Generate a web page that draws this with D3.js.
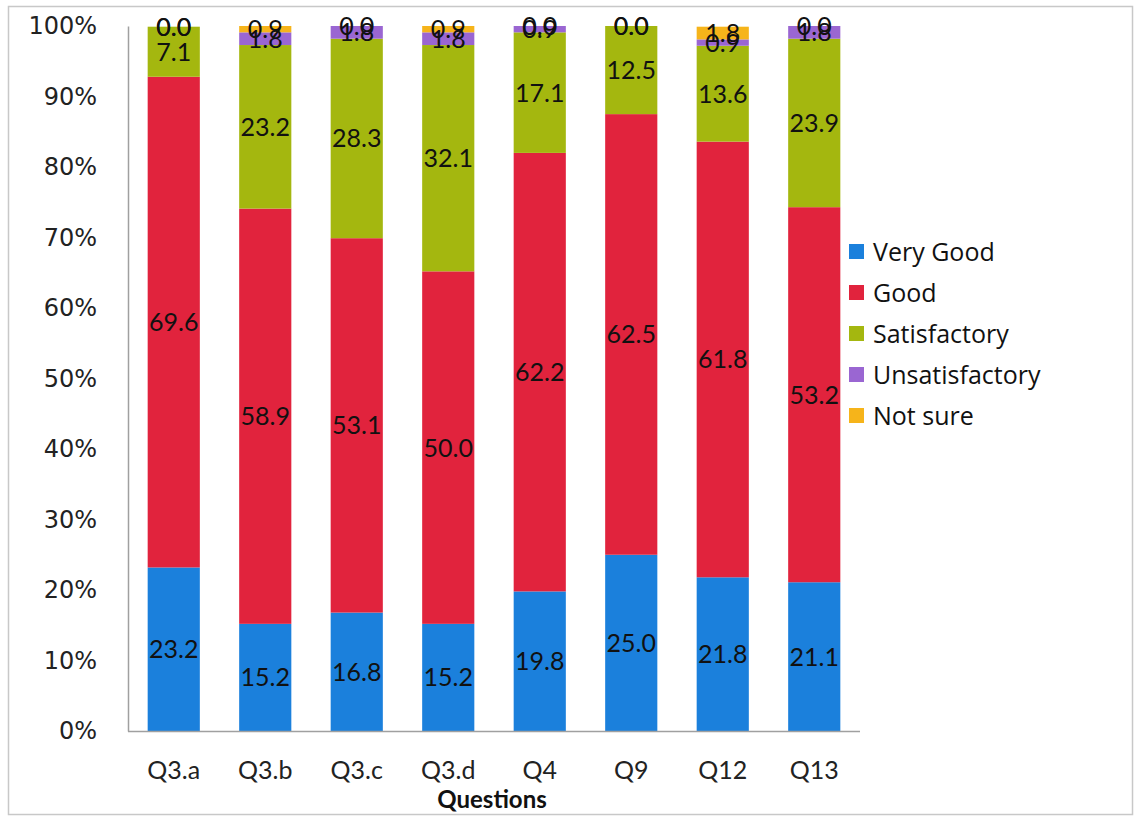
<!DOCTYPE html>
<html><head><meta charset="utf-8">
<script src="https://cdn.jsdelivr.net/npm/d3@7"></script>
<style>body{margin:0;background:#fff;}svg{display:block;}</style>
</head><body>
<svg id="c" width="1135" height="818"></svg>
<script>
const categories = ["Q3.a","Q3.b","Q3.c","Q3.d","Q4","Q9","Q12","Q13"];
const seriesNames = ["Very Good","Good","Satisfactory","Unsatisfactory","Not sure"];
const veryGood      = [23.2,15.2,16.8,15.2,19.8,25.0,21.8,21.1];
const good          = [69.6,58.9,53.1,50.0,62.2,62.5,61.8,53.2];
const satisfactory  = [7.1,23.2,28.3,32.1,17.1,12.5,13.6,23.9];
const unsatisfactory= [0.0,1.8,1.8,1.8,0.9,0.0,0.9,1.8];
const notSure       = [0.0,0.9,0.0,0.9,0.0,0.0,1.8,0.0];
const yTicks = [0,10,20,30,40,50,60,70,80,90,100];
const colors = ["#1b80dc","#e1233d","#a4b70f","#9a66d2","#f6b41a"];

const seriesValues = [veryGood, good, satisfactory, unsatisfactory, notSure];
const rows = categories.map((c,i)=>{const r={cat:c};seriesNames.forEach((s,j)=>r[s]=seriesValues[j][i]);return r;});
const stack = d3.stack().keys(seriesNames)(rows);

const svg = d3.select("#c");
const L=128, R=860, T=26, B=731;
const x = d3.scaleBand().domain(categories).range([L,R]).paddingInner(0.43).paddingOuter(0.215);
const y = d3.scaleLinear().domain([0,100]).range([B,T]);

// outer frame
svg.append("rect").attr("x",8.5).attr("y",6.5).attr("width",1124).attr("height",808)
  .attr("fill","none").attr("stroke","#c8c8c8").attr("stroke-width",1.5);

// bars
const g = svg.append("g");
stack.forEach((layer,j)=>{
  g.selectAll(null).data(layer).join("rect")
   .attr("x",(d,i)=>x(categories[i]))
   .attr("y",d=>y(d[1]))
   .attr("width",x.bandwidth())
   .attr("height",d=>y(d[0])-y(d[1]))
   .attr("fill",colors[j]);
});
// labels
stack.forEach((layer,j)=>{
  g.selectAll(null).data(layer).join("text")
   .attr("x",(d,i)=>x(categories[i])+x.bandwidth()/2)
   .attr("y",d=>y((d[0]+d[1])/2))
   .attr("dy","0.36em")
   .attr("text-anchor","middle")
   .attr("font-family","Lato, 'Open Sans', sans-serif")
   .attr("font-size",25)
   .attr("fill","#111")
   .text(d=>(d[1]-d[0]).toFixed(1));
});

// axes
const yAxis = d3.axisLeft(y).tickValues(yTicks).tickSize(0).tickPadding(31).tickFormat(d=>d+"%");
const ya = svg.append("g").attr("transform",`translate(${L},0)`).call(yAxis);
ya.select(".domain").attr("stroke","#a0a0a0").attr("stroke-width",1.5);
ya.selectAll("text").attr("font-family","'DejaVu Sans', Verdana, sans-serif").attr("font-size",24).attr("fill","#222");

const xAxis = d3.axisBottom(x).tickSize(0).tickPadding(30);
const xa = svg.append("g").attr("transform",`translate(0,${B})`).call(xAxis);
xa.select(".domain").attr("stroke","#a0a0a0").attr("stroke-width",1.5).attr("d",`M${L},0.5H${R}`);
xa.selectAll("text").attr("font-family","Lato, 'Open Sans', sans-serif").attr("font-size",25).attr("fill","#222");

svg.append("text").attr("x",492).attr("y",808).attr("text-anchor","middle")
  .attr("font-family","Lato, 'Open Sans', sans-serif").attr("font-weight","bold").attr("font-size",24)
  .attr("fill","#111").text("Questions");

// legend
const lg = svg.append("g");
seriesNames.forEach((s,j)=>{
  const yy = 252 + j*41;
  lg.append("rect").attr("x",849).attr("y",yy-8).attr("width",15).attr("height",15).attr("fill",colors[j]);
  lg.append("text").attr("x",873).attr("y",yy).attr("dy","0.36em")
    .attr("font-family","'Open Sans', Lato, sans-serif").attr("font-size",25).attr("fill","#111").text(s);
});
</script>
</body></html>
